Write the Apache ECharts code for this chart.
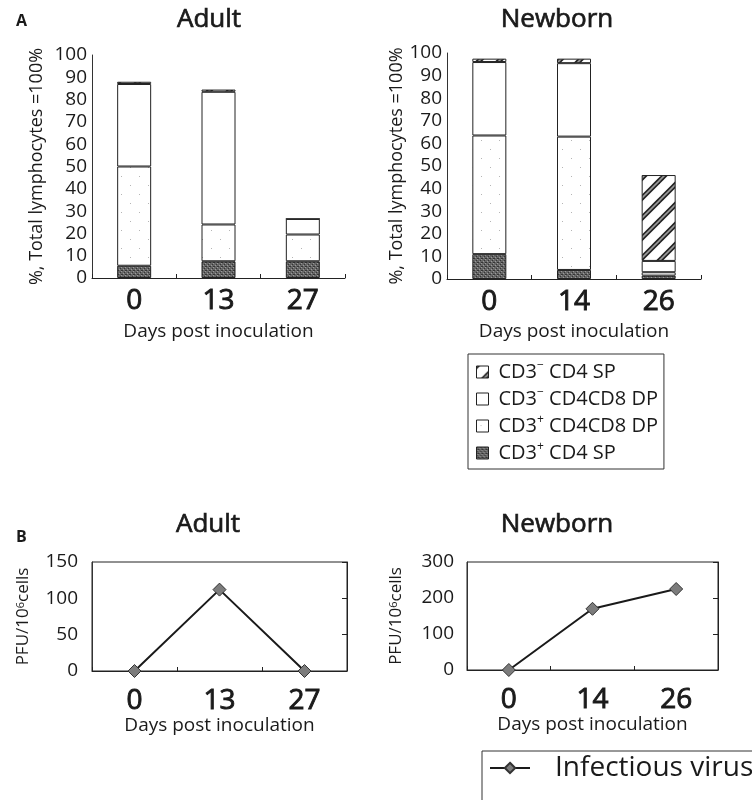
<!DOCTYPE html>
<html>
<head>
<meta charset="utf-8">
<script src="https://cdn.jsdelivr.net/npm/echarts@6/dist/echarts.min.js"></script>
<style>
  html, body { margin: 0; padding: 0; background: #fff; }
  #chart { width: 752px; height: 800px; }
</style>
</head>
<body>
<div id="chart"></div>
<script>
// Days sampled in each group
const adultDays = ['0', '13', '27'];
const newbornDays = ['0', '14', '26'];

// Thymocyte subsets, % of total lymphocytes (stacked bottom to top)
const adultCD3posCD4SP = [5.5, 7.5, 7.5];
const adultCD3posDP = [44.5, 16.5, 12];
const adultCD3negDP = [37, 59.5, 7];
const adultCD3negCD4SP = [1, 1, 0];

const newbornCD3posCD4SP = [11, 4, 1.5];
const newbornCD3posDP = [52.5, 59, 1.5];
const newbornCD3negDP = [32.5, 32.5, 5];
const newbornCD3negCD4SP = [1.5, 2, 38];

// Infectious virus, PFU per 10^6 cells
const adultVirus = [0, 112, 0];
const newbornVirus = [0, 170, 225];

const percentTicks = { min: 0, max: 100, interval: 10 };
const adultPfuTicks = { min: 0, max: 150, interval: 50 };
const newbornPfuTicks = { min: 0, max: 300, interval: 100 };

const FONT = "'Open Sans', 'DejaVu Sans', sans-serif";
const INK = '#1a1a1a';

// Fill textures for the bar segments
function makeTile(w, h, draw) {
  const c = document.createElement('canvas');
  c.width = w; c.height = h;
  draw(c.getContext('2d'), w, h);
  return { image: c, repeat: 'repeat' };
}
const darkFill = makeTile(4, 4, (g) => {
  g.fillStyle = '#666666'; g.fillRect(0, 0, 4, 4);
  g.fillStyle = '#353535';
  g.fillRect(0, 0, 1, 1); g.fillRect(2, 2, 1, 1); g.fillRect(1, 2, 1, 1);
  g.fillStyle = '#9a9a9a';
  g.fillRect(3, 1, 1, 1); g.fillRect(1, 3, 1, 1);
});
const dotFill = makeTile(18, 18, (g) => {
  g.fillStyle = '#ffffff'; g.fillRect(0, 0, 18, 18);
  g.fillStyle = '#b5b5b5';
  g.fillRect(4, 5, 1, 1); g.fillRect(13, 14, 1, 1);
});
const hatchFill = makeTile(20, 20, (g) => {
  g.fillStyle = '#ffffff'; g.fillRect(0, 0, 20, 20);
  const seg = (x0, y0, x1, y1) => {
    g.strokeStyle = '#222'; g.lineWidth = 5;
    g.beginPath(); g.moveTo(x0, y0); g.lineTo(x1, y1); g.stroke();
    g.strokeStyle = '#9a9a9a'; g.lineWidth = 1.6;
    g.beginPath(); g.moveTo(x0, y0); g.lineTo(x1, y1); g.stroke();
  };
  seg(-5, 25, 25, -5);
  seg(-15, 15, 15, -15);
  seg(5, 35, 35, 5);
});

const subsetNames = ['CD3- CD4 SP', 'CD3- CD4CD8 DP', 'CD3+ CD4CD8 DP', 'CD3+ CD4 SP'];
const subsetLabels = {
  'CD3- CD4 SP': '{t|CD3}{s|−}{t| CD4 SP}',
  'CD3- CD4CD8 DP': '{t|CD3}{s|−}{t| CD4CD8 DP}',
  'CD3+ CD4CD8 DP': '{t|CD3}{s|+}{t| CD4CD8 DP}',
  'CD3+ CD4 SP': '{t|CD3}{s|+}{t| CD4 SP}'
};
const subsetFill = {
  'CD3- CD4 SP': hatchFill,
  'CD3- CD4CD8 DP': '#ffffff',
  'CD3+ CD4CD8 DP': dotFill,
  'CD3+ CD4 SP': darkFill
};

function barSeries(name, data, idx, stack) {
  return {
    type: 'bar', name, data, stack,
    xAxisIndex: idx, yAxisIndex: idx,
    barWidth: 34,
    itemStyle: { color: subsetFill[name], borderColor: '#222', borderWidth: 1 },
    emphasis: { disabled: true },
    animation: false
  };
}

function virusSeries(data, idx) {
  return {
    type: 'line', name: 'Infectious virus', data,
    xAxisIndex: idx, yAxisIndex: idx,
    symbol: 'diamond', symbolSize: 13,
    lineStyle: { color: '#1a1a1a', width: 2 },
    itemStyle: { color: '#7c7c7c', borderColor: '#333', borderWidth: 1 },
    z: 5,
    animation: false
  };
}

function catAxis(gridIndex, data, labelMargin, nameGap) {
  return {
    type: 'category', gridIndex, data,
    boundaryGap: true,
    axisLine: { show: true, lineStyle: { color: '#222', width: 1 } },
    axisTick: { show: true, inside: true, length: 4, alignWithLabel: false, lineStyle: { color: '#222' } },
    axisLabel: {
      fontFamily: FONT, fontSize: 28, fontWeight: 'normal', color: INK, margin: labelMargin,
      textBorderColor: INK, textBorderWidth: 0.9
    },
    name: 'Days post inoculation', nameLocation: 'middle', nameGap,
    nameTextStyle: { fontFamily: FONT, fontSize: 19, color: INK },
    splitLine: { show: false }
  };
}

function valAxis(gridIndex, ticks, nameRich, nameGap, labelMargin, nameSize) {
  return {
    type: 'value', gridIndex,
    min: ticks.min, max: ticks.max, interval: ticks.interval,
    axisLine: { show: true, lineStyle: { color: '#333', width: 1 } },
    axisTick: { show: false },
    axisLabel: { fontFamily: FONT, fontSize: 19, color: INK, margin: labelMargin },
    splitLine: { show: false },
    name: nameRich, nameLocation: 'middle', nameGap, nameRotate: 90,
    nameTextStyle: {
      fontFamily: FONT, fontSize: nameSize, color: INK,
      rich: {
        n: { fontFamily: FONT, fontSize: nameSize, color: INK },
        s: { fontFamily: FONT, fontSize: Math.round(nameSize * 0.65), color: INK, verticalAlign: 'top' }
      }
    }
  };
}

// Right-hand inward ticks of the boxed virus plots
function rightTickAxis(gridIndex, ticks) {
  return {
    type: 'value', gridIndex, position: 'right',
    min: ticks.min, max: ticks.max, interval: ticks.interval,
    axisLine: { show: true, lineStyle: { color: '#222' } },
    axisTick: { show: true, inside: true, length: 5, lineStyle: { color: '#222' } },
    axisLabel: { show: false },
    splitLine: { show: false }
  };
}

const titleStyle = {
  fontFamily: FONT, fontSize: 26, fontWeight: 'normal', color: INK,
  textBorderColor: INK, textBorderWidth: 0.7
};
const letterStyle = { fontFamily: FONT, fontSize: 16, fontWeight: 'bold', color: INK };

const chart = echarts.init(document.getElementById('chart'), null, { renderer: 'canvas' });
chart.setOption({
  backgroundColor: '#ffffff',
  animation: false,
  title: [
    { text: 'A', left: 11, top: 8, textStyle: letterStyle },
    { text: 'Adult', left: 204, top: 2, textAlign: 'center', textStyle: titleStyle },
    { text: 'Newborn', left: 552, top: 2, textAlign: 'center', textStyle: titleStyle },
    { text: 'B', left: 11, top: 524, textStyle: letterStyle },
    { text: 'Adult', left: 203, top: 507, textAlign: 'center', textStyle: titleStyle },
    { text: 'Newborn', left: 552, top: 507, textAlign: 'center', textStyle: titleStyle }
  ],
  grid: [
    { left: 92, top: 55, width: 253, height: 223 },
    { left: 447, top: 53, width: 254, height: 226 },
    { left: 92, top: 562, width: 255, height: 109, show: true, borderColor: '#222', borderWidth: 1 },
    { left: 467, top: 562, width: 251, height: 108, show: true, borderColor: '#222', borderWidth: 1 }
  ],
  xAxis: [
    catAxis(0, adultDays, 9, 44),
    catAxis(1, newbornDays, 9, 43),
    catAxis(2, adultDays, 16, 43),
    catAxis(3, newbornDays, 16, 44)
  ],
  yAxis: [
    valAxis(0, percentTicks, '%, Total lymphocytes =100%', 46, 5, 18),
    valAxis(1, percentTicks, '%, Total lymphocytes =100%', 41, 5, 18),
    valAxis(2, adultPfuTicks, '{n|PFU/10}{s|6}{n|cells}', 60, 14, 17),
    valAxis(3, newbornPfuTicks, '{n|PFU/10}{s|6}{n|cells}', 62, 13, 17),
    rightTickAxis(2, adultPfuTicks),
    rightTickAxis(3, newbornPfuTicks)
  ],
  legend: [
    {
      data: subsetNames,
      orient: 'vertical', left: 468, top: 354,
      itemWidth: 12, itemHeight: 12, itemGap: 5,
      padding: [6, 6, 6, 8],
      borderColor: '#333', borderWidth: 1,
      selectedMode: false,
      icon: 'rect',
      itemStyle: { borderColor: '#222', borderWidth: 1 },
      formatter: (n) => subsetLabels[n],
      textStyle: {
        fontFamily: FONT, fontSize: 20, color: INK, padding: [0, 0, 0, 5],
        rich: {
          t: { fontFamily: FONT, fontSize: 20, color: INK, lineHeight: 24 },
          s: { fontFamily: FONT, fontSize: 12, color: INK, verticalAlign: 'top', lineHeight: 24 }
        }
      }
    },
    {
      data: ['Infectious virus'],
      left: 482, top: 751,
      itemWidth: 40, itemHeight: 13,
      padding: [3, 30, 40, 7],
      borderColor: '#333', borderWidth: 1,
      selectedMode: false,
      textStyle: { fontFamily: FONT, fontSize: 28, color: INK, padding: [0, 0, 0, 20] }
    }
  ],
  series: [
    barSeries('CD3+ CD4 SP', adultCD3posCD4SP, 0, 'adult'),
    barSeries('CD3+ CD4CD8 DP', adultCD3posDP, 0, 'adult'),
    barSeries('CD3- CD4CD8 DP', adultCD3negDP, 0, 'adult'),
    barSeries('CD3- CD4 SP', adultCD3negCD4SP, 0, 'adult'),
    barSeries('CD3+ CD4 SP', newbornCD3posCD4SP, 1, 'newborn'),
    barSeries('CD3+ CD4CD8 DP', newbornCD3posDP, 1, 'newborn'),
    barSeries('CD3- CD4CD8 DP', newbornCD3negDP, 1, 'newborn'),
    barSeries('CD3- CD4 SP', newbornCD3negCD4SP, 1, 'newborn'),
    virusSeries(adultVirus, 2),
    virusSeries(newbornVirus, 3)
  ]
});
</script>
</body>
</html>
